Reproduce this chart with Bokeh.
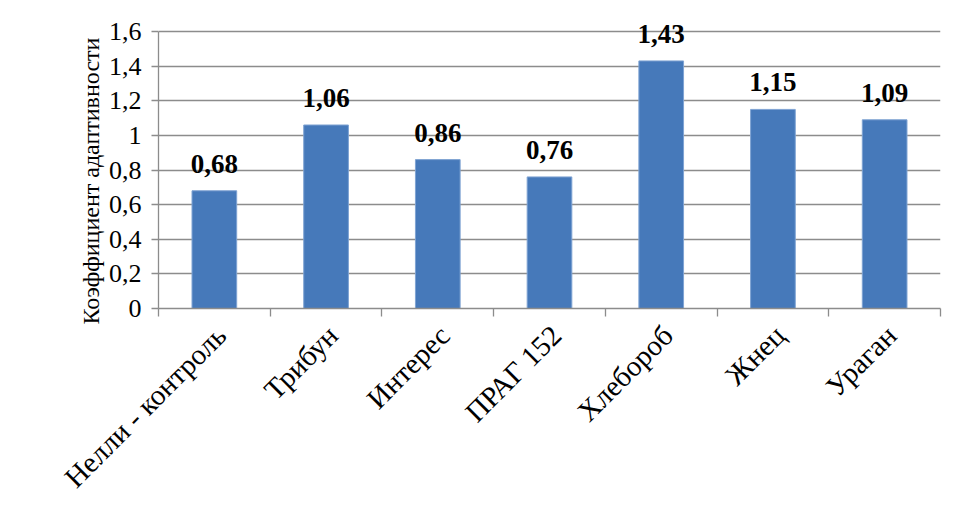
import math
from bokeh.plotting import figure
from bokeh.models import (Range1d, LinearAxis, FixedTicker, CustomJSTickFormatter,
                          ColumnDataSource, LabelSet, Title)
from bokeh.embed import file_html
from bokeh.resources import INLINE

categories = ["Нелли - контроль", "Трибун", "Интерес", "ПРАГ 152", "Хлебороб", "Жнец", "Ураган"]
values = [0.68, 1.06, 0.86, 0.76, 1.43, 1.15, 1.09]
y_ticks = [0, 0.2, 0.4, 0.6, 0.8, 1.0, 1.2, 1.4, 1.6]
y_title = "Коэффициент адаптивности"

n = len(categories)
centers = [i + 0.5 for i in range(n)]
labels = [f"{v:.2f}".replace(".", ",") for v in values]
src = ColumnDataSource(dict(x=centers, top=values, lab=labels))

FONT = "Liberation Serif"
GRAY = "#8c8c8c"
BLUE = "#4679BA"

# frame extends a little above the top gridline so the tallest value label fits
Y_AXIS_MAX = y_ticks[-1]
FRAME_H = 305
Y_END = Y_AXIS_MAX * FRAME_H / 277

p = figure(width=955, height=491, output_backend="svg", toolbar_location=None,
           x_range=Range1d(0, n), y_range=Range1d(0, Y_END),
           frame_width=782, frame_height=FRAME_H,
           min_border_left=158, min_border_top=3, min_border_right=15,
           x_axis_location=None, y_axis_location="left")
p.outline_line_color = None
p.background_fill_color = "white"
p.border_fill_color = "white"
# slightly shifted range used only to place the rotated category labels
p.extra_x_ranges = {"lab": Range1d(-0.06, n - 0.06)}

# y axis
ya = p.yaxis[0]
ya.bounds = (0, Y_AXIS_MAX)
ya.ticker = FixedTicker(ticks=y_ticks)
ya.formatter = CustomJSTickFormatter(code="""
const s = (Math.round(tick*10)/10).toString();
return s.replace('.', ',');
""")
ya.axis_line_color = GRAY
ya.axis_line_width = 1.3
ya.major_tick_line_color = GRAY
ya.major_tick_line_width = 1.3
ya.major_tick_out = 7
ya.major_tick_in = 0
ya.minor_tick_line_color = None
ya.major_label_text_font = FONT
ya.major_label_text_font_size = "26px"
ya.major_label_text_color = "black"
ya.major_label_standoff = 10

# y axis title (as a side title so it can be aligned with the gridded area)
yt = Title(text=y_title, align="left", offset=-16, vertical_align="bottom",
           text_font=FONT, text_font_size="24px", text_font_style="normal",
           text_color="black", standoff=4)
p.add_layout(yt, "left")

p.ygrid.ticker = FixedTicker(ticks=y_ticks)
p.ygrid.grid_line_color = GRAY
p.ygrid.grid_line_width = 1.3
p.xgrid.grid_line_color = None

# x axis with boundary ticks
xa1 = LinearAxis(ticker=FixedTicker(ticks=list(range(n + 1))))
xa1.axis_line_color = GRAY
xa1.axis_line_width = 1.3
xa1.major_tick_line_color = GRAY
xa1.major_tick_line_width = 1.3
xa1.major_tick_out = 8
xa1.major_tick_in = 0
xa1.minor_tick_line_color = None
xa1.major_label_text_font_size = "1px"
xa1.major_label_text_alpha = 0
xa1.major_label_standoff = 0
p.add_layout(xa1, "below")

# x axis with category labels
xa2 = LinearAxis(ticker=FixedTicker(ticks=centers), x_range_name="lab")
xa2.formatter = CustomJSTickFormatter(args=dict(labels=categories),
                                      code="return labels[Math.floor(tick)];")
xa2.axis_line_color = None
xa2.major_tick_line_color = None
xa2.major_tick_out = 0
xa2.major_tick_in = 0
xa2.minor_tick_line_color = None
xa2.major_label_orientation = math.pi / 4
xa2.major_label_text_font = FONT
xa2.major_label_text_font_size = "29px"
xa2.major_label_text_color = "black"
xa2.major_label_standoff = 14
p.add_layout(xa2, "below")

p.vbar(x="x", top="top", bottom=0, width=0.4, source=src,
       fill_color=BLUE, line_color="#7fa3d3", line_width=1)

value_labels = LabelSet(x="x", y="top", text="lab", source=src,
                        text_align="center", text_baseline="bottom", y_offset=18,
                        text_font=FONT, text_font_style="bold",
                        text_font_size="27px", text_color="black",
                        level="overlay")
p.add_layout(value_labels)

open("out.html", "w").write(file_html(p, INLINE))
